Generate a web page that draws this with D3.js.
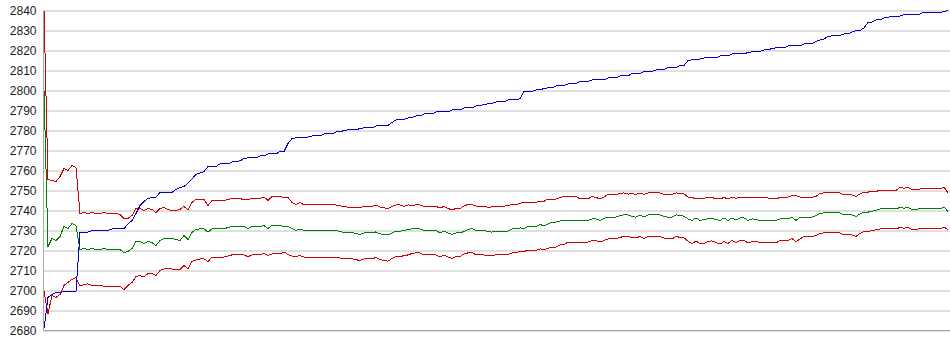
<!DOCTYPE html>
<html>
<head>
<meta charset="utf-8">
<script src="https://cdn.jsdelivr.net/npm/d3@7"></script>
<style>
  body { margin: 0; background: #fff; }
  svg { display: block; }
  .tick text { font-family: "Liberation Sans", Arial, sans-serif; font-size: 12px; fill: #1a1a1a; }
  .tick line { stroke: #c0c0c0; }
  .series { fill: none; stroke-width: 1; shape-rendering: crispEdges; }
</style>
</head>
<body>
<div id="chart"></div>
<script>
// y axis tick labels
let yTicks = [2680, 2690, 2700, 2710, 2720, 2730, 2740, 2750, 2760, 2770, 2780, 2790, 2800, 2810, 2820, 2830, 2840];

// rising line (blue)
let blueVals = [
  2681, 2696.5, 2698, 2699, 2699, 2699.5, 2699.7, 2699.7, 2699.7, 2729,
  2729.2, 2729.2, 2730, 2730, 2730, 2730, 2730, 2730.8, 2730.8, 2730.8,
  2731, 2733.3, 2735, 2738.5, 2742.5, 2744.5, 2746, 2746.5, 2746.7, 2749,
  2749, 2749, 2749, 2750.5, 2751.5, 2752, 2753.7, 2755.8, 2758, 2758.7,
  2759.5, 2762, 2762, 2762, 2763.3, 2763.3, 2763.3, 2764.3, 2764.5, 2764.8,
  2766, 2766.3, 2766.3, 2766.3, 2767.3, 2767.3, 2768.3, 2768.3, 2768.3, 2769.5,
  2769.5, 2773.5, 2776, 2776.3, 2776.3, 2776.3, 2776.8, 2777.3, 2777.3, 2777.3,
  2778.3, 2778.3, 2778.3, 2779.3, 2779.3, 2780, 2780.3, 2780.3, 2780.3, 2781,
  2781.3, 2781.3, 2781.3, 2782.3, 2782.5, 2782.5, 2782.5, 2784, 2785.3, 2785.3,
  2785.5, 2786.3, 2786.5, 2787.3, 2787.3, 2788.3, 2788.3, 2788.3, 2789.3, 2789.3,
  2789.3, 2789.3, 2790.3, 2790.3, 2790.3, 2791.3, 2791.3, 2791.3, 2792.3, 2792.5,
  2793, 2793.3, 2793.5, 2794.3, 2794.3, 2794.3, 2795.3, 2795.5, 2795.5, 2795.8,
  2799.5, 2799.5, 2799.5, 2800.3, 2800.3, 2801, 2801.3, 2801.3, 2802.3, 2802.5,
  2802.5, 2803.3, 2803.5, 2803.5, 2804.5, 2804.5, 2804.5, 2805.3, 2805.3, 2805.3,
  2805.3, 2806.3, 2806.3, 2806.3, 2807.3, 2807.3, 2807.3, 2808.5, 2808.5, 2808.5,
  2809.5, 2809.5, 2809.5, 2810.3, 2810.5, 2810.5, 2811.5, 2811.5, 2811.5, 2812.5,
  2812.5, 2815, 2815.3, 2815.3, 2815.8, 2816.3, 2816.3, 2816.3, 2816.3, 2817.3,
  2817.3, 2817.3, 2818.3, 2818.3, 2818.3, 2818.3, 2819, 2819.3, 2819.3, 2819.5,
  2820.3, 2820.3, 2821, 2821.3, 2821.3, 2821.3, 2822.3, 2822.3, 2822.3, 2822.3,
  2823.3, 2823.3, 2823.5, 2824.5, 2825.3, 2825.8, 2827, 2827.3, 2827.3, 2827.5,
  2828.3, 2828.3, 2829.2, 2830, 2830, 2831.3, 2834, 2834.2, 2835.3, 2835.3,
  2836.3, 2836.5, 2837.2, 2837.2, 2837.2, 2838, 2838, 2838, 2838, 2838.2,
  2839.2, 2839.2, 2839.2, 2839.2, 2839.2, 2839.3, 2840.3
];

// middle line (green)
let midVals = [
  2800, 2722, 2726, 2725, 2727, 2732, 2731, 2733.5, 2732.5, 2720.5,
  2721, 2720.5, 2721, 2720.5, 2720.5, 2721, 2720.5, 2720.5, 2720.5, 2720.5,
  2719, 2719.5, 2721, 2724.5, 2724.5, 2723.5, 2724.5, 2724, 2722.5, 2725,
  2726, 2726, 2726, 2725.5, 2725, 2727.5, 2725.5, 2729, 2730.5, 2730.8,
  2730.8, 2729.2, 2730.8, 2730.8, 2730.8, 2730.8, 2731.5, 2732, 2732, 2732,
  2732, 2731, 2732, 2732, 2732, 2732.5, 2731, 2732.5, 2732.5, 2732.5,
  2732, 2732, 2731, 2730, 2730.8, 2730, 2730, 2730, 2730, 2730,
  2730, 2730, 2730, 2730, 2729.5, 2729, 2729, 2729, 2728.5, 2728,
  2728.8, 2728.8, 2728.8, 2729.3, 2728.3, 2728, 2727.8, 2728.8, 2729.7, 2729.7,
  2730, 2730.5, 2730.8, 2730.8, 2730.8, 2730, 2730, 2730, 2730, 2728.8,
  2729.7, 2728.8, 2728, 2728.8, 2728.8, 2729.5, 2730.5, 2731, 2730, 2730,
  2730, 2729.5, 2729.2, 2729.7, 2729.7, 2729.7, 2729.7, 2730.8, 2730.8, 2731.3,
  2731, 2732, 2732, 2732, 2733, 2732.3, 2733.3, 2734.2, 2734.2, 2734.8,
  2735, 2735, 2735, 2735, 2735, 2735, 2735, 2735.8, 2735.8, 2735,
  2736, 2736.7, 2736.7, 2736.7, 2737.5, 2737.8, 2737.8, 2737, 2736.7, 2737.8,
  2736.7, 2737.8, 2737.8, 2737.8, 2737.8, 2737, 2736.7, 2736.7, 2737.8, 2737.5,
  2737.2, 2735.8, 2735, 2736.3, 2735, 2735.5, 2735.8, 2736, 2735.5, 2735,
  2736.3, 2735, 2736.3, 2735.2, 2736.3, 2736.3, 2735, 2735.8, 2735.5, 2735,
  2735, 2735, 2735, 2735, 2735.8, 2735.8, 2735.8, 2736.7, 2735, 2736.5,
  2736.7, 2736.7, 2736.7, 2737.5, 2738.5, 2738.8, 2738.8, 2738.8, 2738.8, 2738.8,
  2737.8, 2737.8, 2737.8, 2737, 2738.3, 2739.2, 2739.2, 2739.6, 2740, 2740.8,
  2740.8, 2740.8, 2740.8, 2740.8, 2741.5, 2741.2, 2741.5, 2740.5, 2740.7, 2740.8,
  2740.8, 2740.8, 2740.8, 2740.8, 2740.8, 2741.7, 2739.5
];

// upper band (red)
let upperVals = [
  2840, 2755.5, 2755, 2754.5, 2757, 2761, 2760, 2762.5, 2761.5, 2738.5,
  2739, 2738.5, 2739, 2738.5, 2738.5, 2739, 2738.5, 2738.5, 2738.5, 2738,
  2736, 2736, 2737.5, 2741, 2741, 2740, 2741, 2740.5, 2739, 2741,
  2741.5, 2740.5, 2740, 2740, 2740.5, 2742, 2740.5, 2744, 2745.5, 2745.5,
  2745.5, 2742.5, 2745, 2745, 2745, 2745, 2745.5, 2746, 2746, 2746,
  2745.3, 2745.5, 2746, 2746, 2746, 2746.8, 2745, 2747, 2747, 2747,
  2746.5, 2746.5, 2744, 2743, 2744, 2742.8, 2742.8, 2742.8, 2742.8, 2742.8,
  2742.8, 2742.8, 2742.8, 2742.8, 2742.3, 2742, 2741.7, 2741.7, 2741.7, 2741.5,
  2742, 2742, 2742, 2742.8, 2741.7, 2741.3, 2741, 2742, 2742.8, 2742.8,
  2742, 2742.8, 2742.5, 2742.8, 2742.8, 2742, 2742, 2742, 2742, 2741.3,
  2742, 2741, 2740.3, 2741, 2741, 2742.3, 2743, 2743, 2742.2, 2742.2,
  2742.2, 2741.5, 2741.8, 2742.2, 2742.2, 2742.2, 2742.4, 2743, 2743, 2743.5,
  2744.2, 2744.2, 2744.2, 2744.2, 2744.5, 2744.6, 2745.8, 2745.2, 2745.8, 2746.4,
  2747, 2747, 2747, 2747, 2745.8, 2745.8, 2745.8, 2747, 2746.5, 2745.8,
  2746.8, 2748, 2748, 2748, 2748.6, 2748.8, 2748.2, 2748.5, 2748, 2748.8,
  2748, 2748.8, 2748.8, 2748.8, 2748.8, 2748, 2748, 2748, 2748.8, 2748.5,
  2748.3, 2746.7, 2746.5, 2745.8, 2745.8, 2746.2, 2746.5, 2746.5, 2745.8, 2745.8,
  2746.5, 2745.8, 2746.7, 2746, 2746.7, 2746.7, 2746.7, 2746.7, 2746.7, 2746.2,
  2746.7, 2746.2, 2745.8, 2745.8, 2746.5, 2746.7, 2746.7, 2747.5, 2747.5, 2746.7,
  2746.7, 2746.7, 2746.7, 2747, 2748.5, 2748.8, 2748.8, 2748.8, 2748.8, 2748.8,
  2747.8, 2747.8, 2747.8, 2747, 2748.3, 2749.2, 2749.2, 2749.6, 2749.6, 2750,
  2750, 2750, 2750, 2750, 2751.5, 2751.2, 2751.5, 2750.5, 2750.3, 2750.8,
  2750.8, 2750.8, 2750.8, 2750.8, 2750.8, 2751.7, 2748.8
];

// lower band (red)
let lowerVals = [
  2699.5, 2688.5, 2697.5, 2696.5, 2698, 2702.5, 2704, 2705.5, 2706.5, 2702.2,
  2703, 2703.3, 2702.5, 2702.5, 2702.5, 2702.2, 2702.2, 2702.2, 2702.2, 2702,
  2700.5, 2702.5, 2704, 2707, 2707.5, 2706.7, 2708.5, 2708.5, 2707.5, 2710,
  2710.8, 2710.8, 2710.8, 2710.3, 2710.5, 2712.5, 2710.8, 2714.5, 2715.2, 2715.8,
  2715.8, 2714.5, 2716.7, 2716.7, 2716.7, 2716.7, 2717.3, 2717.8, 2717.8, 2717.8,
  2717.8, 2716.9, 2717.8, 2717.8, 2717.8, 2718.6, 2717.5, 2718.3, 2718.3, 2718.3,
  2719.3, 2718, 2717.2, 2717, 2717.5, 2716.7, 2716.7, 2716.7, 2716.7, 2716.7,
  2716.7, 2716.7, 2716.7, 2716.7, 2716.2, 2715.8, 2715.8, 2715.8, 2715.4, 2715,
  2715.8, 2715.8, 2715.8, 2716.5, 2715.5, 2714.9, 2714.7, 2716, 2717, 2717,
  2717.4, 2717.8, 2718.5, 2718.8, 2718.8, 2717.8, 2717.8, 2717.8, 2717.8, 2716.7,
  2717.8, 2716.7, 2716, 2717, 2717, 2718.3, 2718.8, 2719, 2717.8, 2717.8,
  2717.8, 2717.3, 2717.4, 2717.8, 2717.8, 2717.8, 2718, 2718.8, 2718.8, 2719.6,
  2719.6, 2720, 2720, 2720, 2720.8, 2720.5, 2721, 2721.7, 2721.7, 2722.8,
  2723, 2724.2, 2724.2, 2724.2, 2724.2, 2724.2, 2724.2, 2725, 2725, 2724.2,
  2725, 2725.8, 2725.8, 2725.8, 2726.6, 2727, 2727, 2726.5, 2726.3, 2727,
  2725.9, 2727, 2727, 2727, 2727, 2726.2, 2725.8, 2725.8, 2727, 2726.6,
  2726.3, 2724.7, 2723.3, 2724.8, 2723.3, 2723.5, 2724.5, 2724.8, 2724, 2723.2,
  2724.5, 2723.5, 2725, 2724, 2725, 2725, 2723.8, 2724.4, 2724.7, 2723.8,
  2723.8, 2723.8, 2723.8, 2723.8, 2725, 2725, 2725, 2726, 2724.3, 2725.8,
  2727, 2727, 2727, 2727.5, 2728.5, 2728.8, 2728.8, 2728.8, 2728.8, 2728.8,
  2727.8, 2727.8, 2727.8, 2727, 2728.5, 2729.5, 2729.5, 2730, 2730.3, 2730.8,
  2730.8, 2730.8, 2730.8, 2730.8, 2731.5, 2731.2, 2731.5, 2730.5, 2730.7, 2730.8,
  2730.8, 2730.8, 2730.8, 2730.8, 2730.8, 2731.7, 2730.5
];

let width = 950, height = 355;
let margin = {left: 43, right: 0, top: 10, bottom: 24};

let svg = d3.select('#chart').append('svg')
    .attr('width', width)
    .attr('height', height);

let xScale = d3.scaleLinear()
    .domain([0, blueVals.length - 1])
    .range([margin.left + 1, 948]);

let yScale = d3.scaleLinear()
    .domain([2680, 2840])
    .range([height - margin.bottom - 0.5, margin.top + 0.5]);

// grid + tick labels
let yAxis = d3.axisLeft(yScale)
    .tickValues(yTicks)
    .tickFormat(d3.format('d'))
    .tickSize(-(width - margin.left))
    .tickPadding(7);

let gy = svg.append('g')
    .attr('transform', 'translate(' + (margin.left + 0.5) + ',0)')
    .call(yAxis);
gy.select('.domain').remove();

// left and bottom axis lines
svg.append('line')
    .attr('x1', margin.left + 0.5).attr('x2', margin.left + 0.5)
    .attr('y1', yScale(2840)).attr('y2', yScale(2680))
    .attr('stroke', '#a8a8a8');
svg.append('line')
    .attr('x1', margin.left).attr('x2', width)
    .attr('y1', yScale(2680)).attr('y2', yScale(2680))
    .attr('stroke', '#a8a8a8');

let line = d3.line()
    .x(function (d, i) { return xScale(i) })
    .y(function (d) { return yScale(d) });

let series = [
    {vals: upperVals, color: '#d40000'},
    {vals: lowerVals, color: '#d40000'},
    {vals: midVals, color: '#008000'},
    {vals: blueVals, color: '#0000c8'}
];

svg.append('g').selectAll('path')
    .data(series)
    .enter()
    .append('path')
    .attr('class', 'series')
    .attr('d', function (d) { return line(d.vals) })
    .style('stroke', function (d) { return d.color });
</script>
</body>
</html>
